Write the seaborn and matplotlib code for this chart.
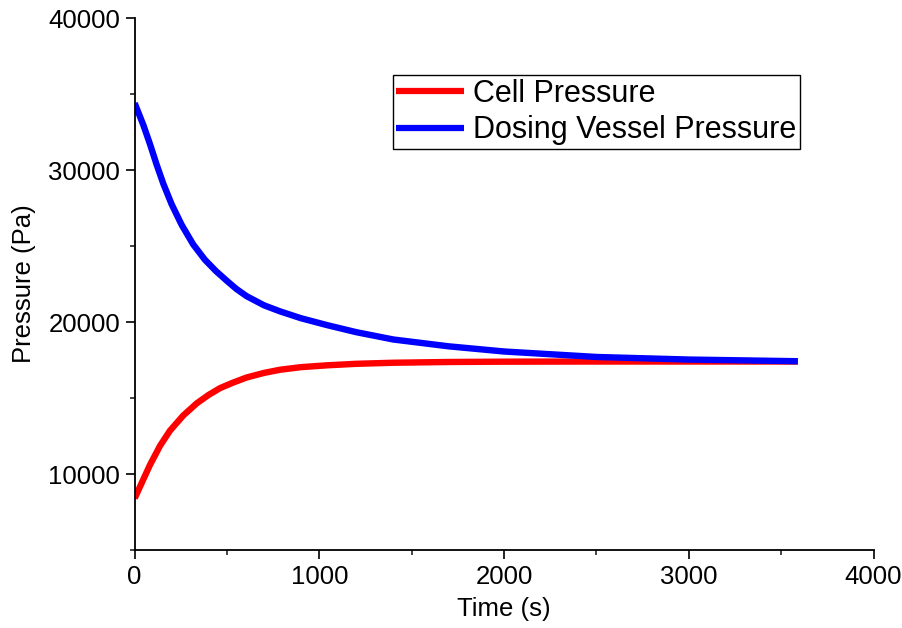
import numpy as np
import pandas as pd
import matplotlib
matplotlib.use("Agg")
import matplotlib.pyplot as plt
import seaborn as sns
from matplotlib.ticker import MultipleLocator

# Data
time_cell = [0, 47, 83, 137, 191, 263, 336, 400, 462, 530, 606, 700, 787, 900, 1040, 1200, 1400, 1700, 2000, 2500, 3000, 3590]
cell_pressure = [8400, 9650, 10600, 11850, 12850, 13850, 14650, 15200, 15650, 16000, 16350, 16650, 16860, 17030, 17150, 17250, 17320, 17370, 17390, 17400, 17400, 17400]

time_dose = [0, 47, 83, 119, 155, 200, 254, 317, 380, 440, 500, 550, 606, 700, 787, 900, 1040, 1200, 1400, 1700, 2000, 2500, 3000, 3590]
dose_pressure = [34400, 32960, 31700, 30350, 29100, 27750, 26400, 25100, 24100, 23350, 22700, 22180, 21700, 21100, 20700, 20250, 19800, 19330, 18850, 18400, 18060, 17700, 17530, 17420]

series_names = ["Cell Pressure", "Dosing Vessel Pressure"]

df = pd.concat([
    pd.DataFrame({"Time": time_cell, "Pressure": cell_pressure, "Series": series_names[0]}),
    pd.DataFrame({"Time": time_dose, "Pressure": dose_pressure, "Series": series_names[1]}),
])

sns.set_style("ticks")
plt.rcParams["font.family"] = ["Liberation Sans", "DejaVu Sans"]
plt.rcParams["text.color"] = "black"
plt.rcParams["axes.labelcolor"] = "black"

fig = plt.figure(figsize=(9.02, 6.28), dpi=100)
ax = fig.add_axes([0.1493, 0.1242, 0.8192, 0.8471])

sns.lineplot(data=df, x="Time", y="Pressure", hue="Series",
             palette={series_names[0]: "#ff0000", series_names[1]: "#0000ff"},
             linewidth=4.6, ax=ax, sort=False, estimator=None)
for ln in ax.lines:
    ln.set_solid_joinstyle("round")
    ln.set_solid_capstyle("butt")

ax.set_xlim(0, 4000)
ax.set_ylim(5000, 40000)
ax.xaxis.set_major_locator(MultipleLocator(1000))
ax.xaxis.set_minor_locator(MultipleLocator(500))
ax.yaxis.set_major_locator(MultipleLocator(10000))
ax.yaxis.set_minor_locator(MultipleLocator(5000))

ax.tick_params(axis="both", which="major", direction="out", length=6.5, width=1.2,
               labelsize=18.5, colors="black", pad=4)
ax.tick_params(axis="both", which="minor", direction="out", length=3.5, width=1.2)

for s in ["top", "right"]:
    ax.spines[s].set_visible(False)
for s in ["left", "bottom"]:
    ax.spines[s].set_linewidth(1.3)
    ax.spines[s].set_color("black")

ax.set_xlabel("Time (s)", fontsize=18.5, labelpad=6, color="black")
ax.set_ylabel("Pressure (Pa)", fontsize=18.5, labelpad=9, color="black")

handles, labels = ax.get_legend_handles_labels()
leg = ax.legend(handles, labels, loc="upper left",
                bbox_to_anchor=(392.7 / 902, 1 - 75 / 628),
                bbox_transform=fig.transFigure,
                fontsize=22, frameon=True, fancybox=False, framealpha=1,
                edgecolor="black", handlelength=2.2, handletextpad=0.3,
                borderpad=0.12, labelspacing=0.22, borderaxespad=0)
leg.get_frame().set_linewidth(1.0)
for line in leg.get_lines():
    line.set_linewidth(4.5)
for t in leg.get_texts():
    t.set_color("black")

fig.savefig("out.png", dpi=100)
